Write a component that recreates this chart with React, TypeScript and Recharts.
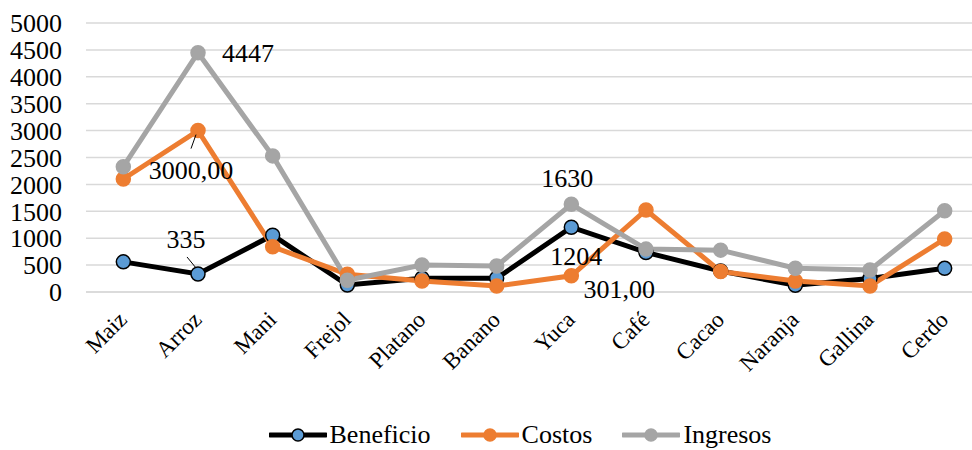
import React from 'react';
import {
  ComposedChart, Line, XAxis, YAxis, CartesianGrid, Legend,
} from 'recharts';

const FONT = "Liberation Serif, Times New Roman, serif";

const categorias = ['Maiz', 'Arroz', 'Mani', 'Frejol', 'Platano', 'Banano', 'Yuca', 'Café', 'Cacao', 'Naranja', 'Gallina', 'Cerdo'];
const beneficio = [560, 335, 1055, 130, 255, 255, 1204, 735, 390, 125, 250, 440];
const costos = [2100, 3000, 840, 330, 205, 112, 301, 1525, 380, 205, 112, 985];
const ingresos = [2330, 4447, 2530, 220, 500, 485, 1630, 797, 778, 442, 410, 1511];
const yTicks = [0, 500, 1000, 1500, 2000, 2500, 3000, 3500, 4000, 4500, 5000];

const data = categorias.map((name, i) => ({
  name,
  beneficio: beneficio[i],
  costos: costos[i],
  ingresos: ingresos[i],
}));

const SERIES = [
  { key: 'beneficio', label: 'Beneficio', line: '#000000', fill: '#5b9bd5', dotStroke: '#000000' },
  { key: 'costos', label: 'Costos', line: '#ed7d31', fill: '#ed7d31', dotStroke: '#ed7d31' },
  { key: 'ingresos', label: 'Ingresos', line: '#a5a5a5', fill: '#a5a5a5', dotStroke: '#a5a5a5' },
];

// which points carry a data label, and where the label sits relative to the point
const LABELS: Record<string, { index: number; dx: number; dy: number; anchor: string; decimals?: boolean; leader?: number[] }[]> = {
  beneficio: [
    { index: 1, dx: -12, dy: -26, anchor: 'middle', leader: [-11, -17, -2, -6] },
    { index: 6, dx: 5, dy: 38, anchor: 'middle' },
  ],
  costos: [
    { index: 1, dx: -7, dy: 48, anchor: 'middle', decimals: true, leader: [-2, 4, -7, 18] },
    { index: 6, dx: 48, dy: 22, anchor: 'middle', decimals: true },
  ],
  ingresos: [
    { index: 1, dx: 24, dy: 9, anchor: 'start' },
    { index: 6, dx: -4, dy: -17, anchor: 'middle' },
  ],
};

function formatValue(v: number, decimals?: boolean) {
  return decimals ? v.toFixed(2).replace('.', ',') : String(v);
}

function makeLabel(key: string) {
  return (props: any) => {
    const { x, y, index, value } = props;
    const cfg = (LABELS[key] || []).find(l => l.index === index);
    if (!cfg) return null;
    return (
      <g key={`lbl-${key}-${index}`}>
        {cfg.leader && (
          <line x1={x + cfg.leader[0]} y1={y + cfg.leader[1]} x2={x + cfg.leader[2]} y2={y + cfg.leader[3]}
            stroke="#000" strokeWidth={1} />
        )}
        <text x={x + cfg.dx} y={y + cfg.dy} textAnchor={cfg.anchor} fontFamily={FONT} fontSize={26} fill="#000">
          {formatValue(value, cfg.decimals)}
        </text>
      </g>
    );
  };
}

function CategoryTick({ x, y, payload }: any) {
  return (
    <text transform={`translate(${x + 5},${y + 27}) rotate(-45)`} textAnchor="end"
      fontFamily={FONT} fontSize={23} fill="#000">
      {payload.value}
    </text>
  );
}

function LegendContent() {
  return (
    <div style={{ display: 'flex', justifyContent: 'center', gap: 30, fontFamily: FONT, fontSize: 26, color: '#000', paddingLeft: 58 }}>
      {SERIES.map(s => (
        <div key={s.key} style={{ display: 'flex', alignItems: 'center' }}>
          <svg width={58} height={16} style={{ marginRight: 3 }}>
            <line x1={1} y1={8} x2={57} y2={8} stroke={s.line} strokeWidth={5} strokeLinecap="round" />
            <circle cx={29} cy={8} r={6} fill={s.fill} stroke={s.dotStroke} strokeWidth={1.5} />
          </svg>
          <span>{s.label}</span>
        </div>
      ))}
    </div>
  );
}

export default function App() {
  return (
    <div style={{ position: 'absolute', left: 0, top: 0, width: 972, height: 450, overflow: 'hidden', background: '#fff' }}>
      <ComposedChart width={990} height={450} data={data} margin={{ top: 23, right: 8, bottom: 0, left: 0 }}>
        <CartesianGrid vertical={false} stroke="#d9d9d9" strokeWidth={1.5} />
        <XAxis dataKey="name" scale="band" interval={0} tickSize={0} tickLine={false} height={128}
          axisLine={{ stroke: '#d9d9d9', strokeWidth: 1.5 }} tick={<CategoryTick />} />
        <YAxis domain={[0, 5000]} ticks={yTicks} width={86} tickSize={0} tickMargin={24}
          axisLine={false} tickLine={false} interval={0}
          tick={{ fontFamily: FONT, fontSize: 26, fill: '#000' }} />
        <Legend verticalAlign="bottom" content={<LegendContent />} />
        {SERIES.map(s => (
          <Line key={s.key} type="linear" dataKey={s.key} name={s.label} stroke={s.line} strokeWidth={5}
            dot={{ r: 7, fill: s.fill, stroke: s.dotStroke, strokeWidth: 1.5 }}
            activeDot={false} isAnimationActive={false} label={makeLabel(s.key)} />
        ))}
      </ComposedChart>
    </div>
  );
}
